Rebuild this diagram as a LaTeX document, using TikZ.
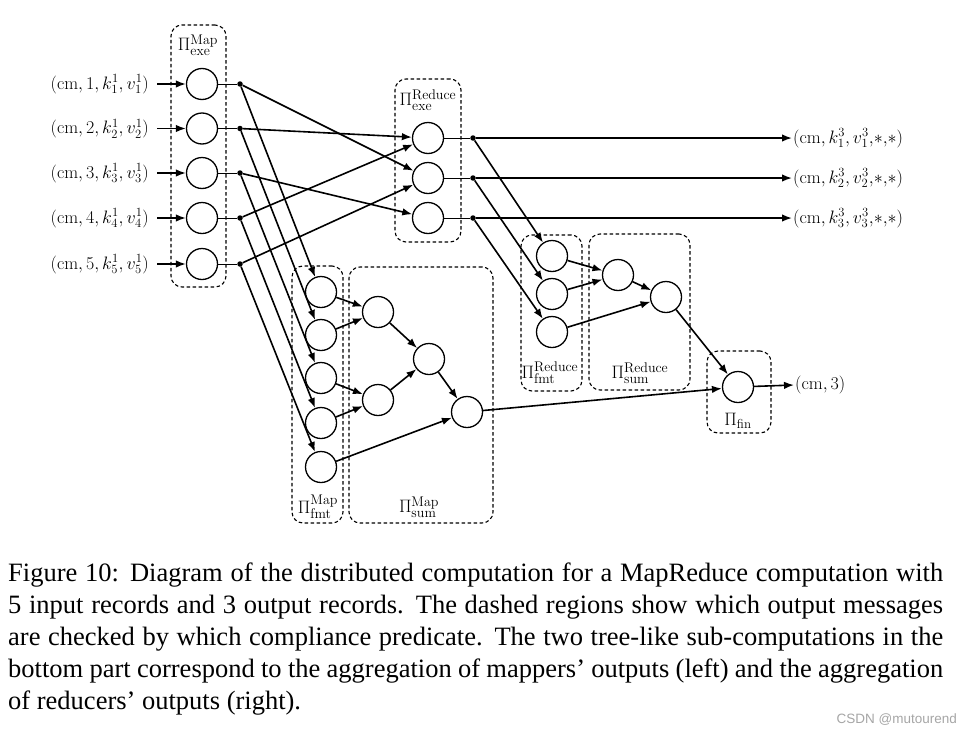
\RequirePackage{fix-cm}
\documentclass[tikz,border=0pt]{standalone}
\usepackage{fontspec}
\usetikzlibrary{arrows.meta}
\newfontfamily\capfont{Liberation Serif}
\newfontfamily\wmfont{Liberation Sans}
\newcommand{\PLab}[2]{$\Pi^{\hbox{\fontsize{14}{14}\selectfont #1}}_{\hbox{\fontsize{14}{14}\selectfont #2}}$}
\begin{document}
\begin{tikzpicture}[x=1pt,y=-1pt,
  proc/.style={circle,draw,line width=1.3pt,minimum size=31pt,inner sep=0pt},
  jdot/.style={circle,fill,inner sep=0pt,minimum size=5.5pt},
  arr/.style={line width=1.6pt,-{Latex[length=10pt,width=7.5pt]}},
  link/.style={line width=1pt},
  region/.style={draw,dash pattern=on 3.5pt off 2.5pt,line width=1.1pt,rounded corners=11pt,inner sep=0pt},
  lab/.style={font=\fontsize{18}{21}\selectfont,inner sep=1pt},
  inlab/.style={lab,anchor=east,inner xsep=8pt},
  outlab/.style={lab,anchor=west,inner xsep=1pt},
  plab/.style={inner sep=0pt,font=\fontsize{18}{20}\selectfont}]
\fill[white] (0,0) rectangle (965,736);
\useasboundingbox (0,0) rectangle (965,736);

% regions
\node[region,minimum width=55pt,minimum height=262pt] (bxme) at (198.5,156) {};
\node[region,minimum width=66pt,minimum height=163pt] (bxre) at (428,160.5) {};
\node[region,minimum width=51pt,minimum height=257pt] (bxmf) at (317.5,394.5) {};
\node[region,minimum width=144pt,minimum height=256pt] (bxms) at (421,395) {};
\node[region,minimum width=61pt,minimum height=156pt] (bxrf) at (551.5,313) {};
\node[region,minimum width=101pt,minimum height=156pt] (bxrs) at (639.5,312) {};
\node[region,minimum width=64pt,minimum height=82pt] (bxfin) at (739,392) {};

% region labels
\node[plab] (lme) at (198,45) {\PLab{Map}{exe}};
\node[plab] (lre) at (428,100) {\PLab{Reduce}{exe}};
\node[plab] (lmf) at (318,507) {\PLab{Map}{fmt}};
\node[plab] (lms) at (419,507) {\PLab{Map}{sum}};
\node[plab] (lrf) at (550,373) {\PLab{Reduce}{fmt}};
\node[plab] (lrs) at (640,373) {\PLab{Reduce}{sum}};
\node[plab] (lfin) at (738,421) {$\Pi_{\hbox{\fontsize{13}{13}\selectfont fin}}$};

% map exe
\node[proc] (m1) at (202,84) {};
\node[proc] (m2) at (202,128.5) {};
\node[proc] (m3) at (202,173) {};
\node[proc] (m4) at (202,218) {};
\node[proc] (m5) at (202,264) {};
\node[jdot] (d1) at (240,84) {};
\node[jdot] (d2) at (240,128.5) {};
\node[jdot] (d3) at (240,173) {};
\node[jdot] (d4) at (240,218) {};
\node[jdot] (d5) at (240,264) {};

% inputs
\node[inlab] (i1) at (157,84) {$(\mathrm{cm},1,k_1^1,v_1^1)$};
\node[inlab] (i2) at (157,128.5) {$(\mathrm{cm},2,k_2^1,v_2^1)$};
\node[inlab] (i3) at (157,173) {$(\mathrm{cm},3,k_3^1,v_3^1)$};
\node[inlab] (i4) at (157,218) {$(\mathrm{cm},4,k_4^1,v_4^1)$};
\node[inlab] (i5) at (157,264) {$(\mathrm{cm},5,k_5^1,v_5^1)$};

% reduce exe
\node[proc] (r1) at (428,138) {};
\node[proc] (r2) at (428,178) {};
\node[proc] (r3) at (428,218) {};
\node[jdot] (e1) at (473,138) {};
\node[jdot] (e2) at (473,178) {};
\node[jdot] (e3) at (473,218) {};

% outputs
\node[outlab] (o1) at (792,138) {$(\mathrm{cm},k_1^3,v_1^3,\!*,\!*)$};
\node[outlab] (o2) at (792,178) {$(\mathrm{cm},k_2^3,v_2^3,\!*,\!*)$};
\node[outlab] (o3) at (792,218) {$(\mathrm{cm},k_3^3,v_3^3,\!*,\!*)$};

% map fmt / sum
\node[proc] (f1) at (321,292) {};
\node[proc] (f2) at (321,335) {};
\node[proc] (f3) at (321,378) {};
\node[proc] (f4) at (321,423) {};
\node[proc] (f5) at (321,467) {};
\node[proc] (s1) at (378,312) {};
\node[proc] (s2) at (378,400) {};
\node[proc] (s3) at (429,359) {};
\node[proc] (s4) at (467,412) {};

% reduce fmt / sum
\node[proc] (g1) at (552,256) {};
\node[proc] (g2) at (552,294) {};
\node[proc] (g3) at (552,332) {};
\node[proc] (t1) at (618,275) {};
\node[proc] (t2) at (666,297) {};

% final
\node[proc] (fin) at (738,387) {};
\node[outlab] (oc) at (794,385) {$(\mathrm{cm},3)$};

% connectors
\foreach \i in {1,...,5}{
  \draw[arr] (i\i.east) -- (m\i);
  \draw[link] (m\i) -- (d\i);
  \draw[arr] (d\i) -- (f\i);
}
\draw[arr] (d1) -- (r2);
\draw[arr] (d2) -- (r1);
\draw[arr] (d3) -- (r3);
\draw[arr] (d4) -- (r1);
\draw[arr] (d5) -- (r2);
\foreach \i in {1,2,3}{
  \draw[link] (r\i) -- (e\i);
  \draw[arr] (e\i) -- (o\i.west);
  \draw[arr] (e\i) -- (g\i);
}
\draw[arr] (f1) -- (s1);
\draw[arr] (f2) -- (s1);
\draw[arr] (f3) -- (s2);
\draw[arr] (f4) -- (s2);
\draw[arr] (s1) -- (s3);
\draw[arr] (s2) -- (s3);
\draw[arr] (s3) -- (s4);
\draw[arr] (f5) -- (s4);
\draw[arr] (g1) -- (t1);
\draw[arr] (g2) -- (t1);
\draw[arr] (g3) -- (t2);
\draw[arr] (t1) -- (t2);
\draw[arr] (t2) -- (fin);
\draw[arr] (s4) -- (fin);
\draw[arr] (fin) -- (oc.west);

% caption
\node[anchor=base west,text width=935pt,inner sep=0pt,align=justify,
      font=\capfont\fontsize{26.5}{32}\selectfont] (cap) at (8,581)
{Figure 10: Diagram of the distributed computation for a MapReduce computation with\linebreak
5 input records and 3 output records. The dashed regions show which output messages\linebreak
are checked by which compliance predicate. The two tree-like sub-computations in the\linebreak
bottom part correspond to the aggregation of mappers’ outputs (left) and the aggregation\linebreak
of reducers’ outputs (right).};

\node[anchor=base east,inner sep=0pt,font=\wmfont\fontsize{13.5}{13.5}\selectfont,text=black!35] (wm) at (957,723) {CSDN @mutourend};
\end{tikzpicture}
\end{document}
